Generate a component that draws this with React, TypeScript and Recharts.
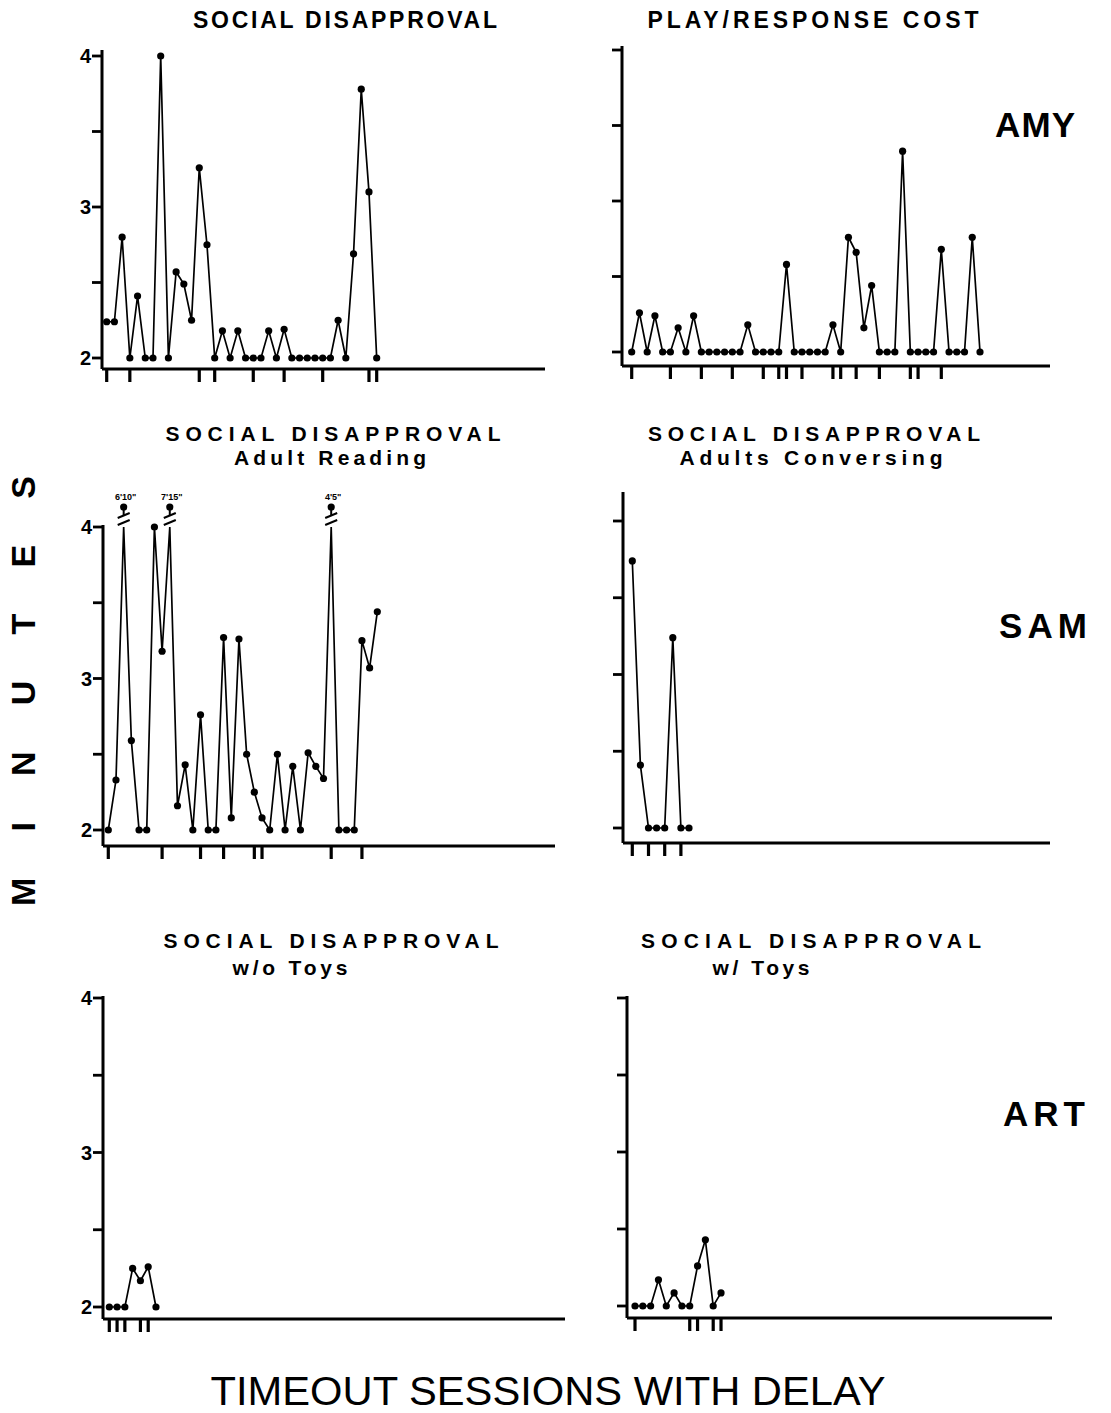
import React from 'react';
import { LineChart, Line, XAxis, YAxis } from 'recharts';

const FONT = "'Liberation Sans', Arial, Helvetica, sans-serif";
const Y_CAP = 4;
const Y_TICKS = [2, 2.5, 3, 3.5, 4];

// ---- AMY ----
const amySocialValues = [2.24, 2.24, 2.8, 2, 2.41, 2, 2, 4.02, 2, 2.57, 2.49, 2.25, 3.26, 2.75, 2, 2.18, 2, 2.18, 2, 2, 2, 2.18, 2, 2.19, 2, 2, 2, 2, 2, 2, 2.25, 2, 2.69, 3.78, 3.1, 2];
const amySocialTicks = [1, 4, 13, 15, 20, 24, 29, 35, 36];

const amyPlayValues = [2, 2.26, 2, 2.24, 2, 2, 2.16, 2, 2.24, 2, 2, 2, 2, 2, 2, 2.18, 2, 2, 2, 2, 2.58, 2, 2, 2, 2, 2, 2.18, 2, 2.76, 2.66, 2.16, 2.44, 2, 2, 2, 3.33, 2, 2, 2, 2, 2.68, 2, 2, 2, 2.76, 2];
const amyPlayTicks = [1, 6, 10, 14, 18, 20, 21, 23, 27, 28, 30, 33, 37, 38, 41];

// ---- SAM ----
const samReadingValues = [2, 2.33, 6.17, 2.59, 2, 2, 4.0, 3.18, 7.25, 2.16, 2.43, 2, 2.76, 2, 2, 3.27, 2.08, 3.26, 2.5, 2.25, 2.08, 2, 2.5, 2, 2.42, 2, 2.51, 2.42, 2.34, 4.08, 2, 2, 2, 3.25, 3.07, 3.44];
const samReadingBreaks: Record<number, string> = { 3: "6'10\"", 9: "7'15\"", 30: "4'5\"" };
const samReadingTicks = [1, 8, 13, 16, 20, 21, 30, 34];

const samConversingValues = [3.74, 2.41, 2, 2, 2, 3.24, 2, 2];
const samConversingTicks = [1, 3, 5, 7];

// ---- ART ----
const artNoToysValues = [2, 2, 2, 2.25, 2.17, 2.26, 2];
const artNoToysTicks = [1, 2, 3, 5, 6];

const artToysValues = [2, 2, 2, 2.17, 2, 2.085, 2, 2, 2.26, 2.43, 2, 2.085];
const artToysTicks = [1, 8, 9, 11, 12];

type Row = { session: number; value: number; plot: number; breakLabel?: string };

function makeData(values: number[], breaks?: Record<number, string>): Row[] {
  return values.map((v, i) => ({
    session: i + 1,
    value: v,
    plot: Math.min(v, Y_CAP),
    breakLabel: breaks ? breaks[i + 1] : undefined,
  }));
}

type Panel = {
  id: string;
  data: Row[];
  ticks: number[];
  axisX: number;
  xEnd: number;
  plotTop: number;
  y4: number;
  y2: number;
  xAxisY: number;
  s1: number;
  d: number;
  labels: boolean;
};

const panels: Panel[] = [
  { id: 'amy-social', data: makeData(amySocialValues), ticks: amySocialTicks, axisX: 102, xEnd: 545, plotTop: 50, y4: 56, y2: 358, xAxisY: 369, s1: 106.7, d: 7.714, labels: true },
  { id: 'amy-play', data: makeData(amyPlayValues), ticks: amyPlayTicks, axisX: 622, xEnd: 1050, plotTop: 46, y4: 50, y2: 352, xAxisY: 366, s1: 631.7, d: 7.74, labels: false },
  { id: 'sam-reading', data: makeData(samReadingValues, samReadingBreaks), ticks: samReadingTicks, axisX: 103, xEnd: 555, plotTop: 525, y4: 527, y2: 830, xAxisY: 846, s1: 108.3, d: 7.686, labels: true },
  { id: 'sam-conv', data: makeData(samConversingValues), ticks: samConversingTicks, axisX: 623, xEnd: 1050, plotTop: 492, y4: 521, y2: 828, xAxisY: 843, s1: 632.3, d: 8.1, labels: false },
  { id: 'art-notoys', data: makeData(artNoToysValues), ticks: artNoToysTicks, axisX: 103, xEnd: 565, plotTop: 996, y4: 998, y2: 1307, xAxisY: 1319, s1: 109.3, d: 7.78, labels: true },
  { id: 'art-toys', data: makeData(artToysValues), ticks: artToysTicks, axisX: 627, xEnd: 1052, plotTop: 996, y4: 998, y2: 1306, xAxisY: 1318, s1: 635, d: 7.82, labels: false },
];

const YAXIS_W = 40;
const MT = 40;
const MR = 10;
const XAXIS_H = 24;

const renderDot = (props: any) => {
  const { cx, cy, payload, index } = props;
  if (cx == null || cy == null || isNaN(cx) || isNaN(cy)) return <g key={`d${index}`} />;
  if (payload && payload.breakLabel) {
    return (
      <g key={`d${index}`}>
        <line x1={cx} y1={cy - 20} x2={cx} y2={cy - 12} stroke="#000" strokeWidth={2} />
        <line x1={cx - 6} y1={cy - 9} x2={cx + 6} y2={cy - 14} stroke="#000" strokeWidth={2} />
        <line x1={cx - 6} y1={cy - 2} x2={cx + 6} y2={cy - 7} stroke="#000" strokeWidth={2} />
        <circle cx={cx} cy={cy - 20} r={3.6} fill="#000" />
        <text x={cx + 2} y={cy - 27} textAnchor="middle" fontSize={9} fontWeight="bold" fontFamily={FONT} fill="#000">
          {payload.breakLabel}
        </text>
      </g>
    );
  }
  return <circle key={`d${index}`} cx={cx} cy={cy} r={3.6} fill="#000" />;
};

function PanelChart({ p }: { p: Panel }) {
  const k = (p.y2 - p.y4) / 2;
  const yDomain: [number, number] = [2 - (p.xAxisY - p.y2) / k, 4 + (p.y4 - p.plotTop) / k];
  const xDomain: [number, number] = [1 - (p.s1 - p.axisX) / p.d, 1 + (p.xEnd - p.s1) / p.d];
  const width = p.xEnd - p.axisX + YAXIS_W + MR;
  const height = MT + (p.xAxisY - p.plotTop) + XAXIS_H;
  return (
    <div style={{ position: 'absolute', left: p.axisX - YAXIS_W, top: p.plotTop - MT }}>
      <LineChart width={width} height={height} data={p.data} margin={{ top: MT, right: MR, bottom: 0, left: 0 }}>
        <XAxis
          dataKey="session"
          type="number"
          domain={xDomain}
          ticks={p.ticks}
          interval={0}
          height={XAXIS_H}
          tickSize={13}
          axisLine={{ stroke: '#000', strokeWidth: 3 }}
          tickLine={{ stroke: '#000', strokeWidth: 3.2 }}
          tick={(t: any) => <g key={`xt${t.index}`} />}
        />
        <YAxis
          type="number"
          domain={yDomain}
          ticks={Y_TICKS}
          interval={0}
          width={YAXIS_W}
          tickSize={10}
          tickMargin={1}
          axisLine={{ stroke: '#000', strokeWidth: 3 }}
          tickLine={{ stroke: '#000', strokeWidth: 2.8 }}
          tick={(t: any) => {
            const v = t.payload?.value;
            if (!p.labels || !Number.isInteger(v)) return <g key={`yt${t.index}`} />;
            return (
              <text key={`yt${t.index}`} x={t.x} y={t.y} dy={7} textAnchor="end" fontSize={20} fontWeight="bold" fontFamily={FONT} fill="#000">
                {v}
              </text>
            );
          }}
        />
        <Line
          type="linear"
          dataKey="plot"
          stroke="#000"
          strokeWidth={1.7}
          dot={renderDot}
          activeDot={false}
          isAnimationActive={false}
        />
      </LineChart>
    </div>
  );
}

type Label = { text: string; x: number; y: number; len: number; size: number; weight?: string; adjust: string };

const TS1 = 23;
const TS = 21;
const titleLabels: Label[] = [
  { text: 'SOCIAL DISAPPROVAL', x: 345, y: 28, len: 304, size: TS1, weight: 'bold', adjust: 'spacing' },
  { text: 'PLAY/RESPONSE COST', x: 813, y: 28, len: 331, size: TS1, weight: 'bold', adjust: 'spacing' },
  { text: 'SOCIAL DISAPPROVAL', x: 333, y: 441, len: 335, size: TS, weight: 'bold', adjust: 'spacing' },
  { text: 'Adult Reading', x: 330, y: 465, len: 192, size: TS, weight: 'bold', adjust: 'spacing' },
  { text: 'SOCIAL DISAPPROVAL', x: 814, y: 441, len: 332, size: TS, weight: 'bold', adjust: 'spacing' },
  { text: 'Adults Conversing', x: 811, y: 465, len: 263, size: TS, weight: 'bold', adjust: 'spacing' },
  { text: 'SOCIAL DISAPPROVAL', x: 331, y: 948, len: 335, size: TS, weight: 'bold', adjust: 'spacing' },
  { text: 'w/o Toys', x: 290, y: 975, len: 115, size: TS, weight: 'bold', adjust: 'spacing' },
  { text: 'SOCIAL DISAPPROVAL', x: 811, y: 948, len: 340, size: TS, weight: 'bold', adjust: 'spacing' },
  { text: 'w/ Toys', x: 761, y: 975, len: 97, size: TS, weight: 'bold', adjust: 'spacing' },
  { text: 'AMY', x: 1035, y: 137, len: 80, size: 35, weight: 'bold', adjust: 'spacing' },
  { text: 'SAM', x: 1043, y: 638, len: 88, size: 35, weight: 'bold', adjust: 'spacing' },
  { text: 'ART', x: 1044, y: 1126, len: 82, size: 35, weight: 'bold', adjust: 'spacing' },
  { text: 'TIMEOUT SESSIONS WITH DELAY', x: 548, y: 1405, len: 675, size: 40, weight: 'normal', adjust: 'spacingAndGlyphs' },
];

export default function App() {
  return (
    <div style={{ position: 'absolute', left: 0, top: 0, width: 1111, height: 1413, background: '#fff', fontFamily: FONT }}>
      {panels.map((p) => (
        <PanelChart key={p.id} p={p} />
      ))}
      <svg width={1111} height={1413} style={{ position: 'absolute', left: 0, top: 0, pointerEvents: 'none' }}>
        {titleLabels.map((l, i) => (
          <text
            key={i}
            x={l.x}
            y={l.y}
            textAnchor="middle"
            fontSize={l.size}
            fontWeight={l.weight}
            fontFamily={FONT}
            textLength={l.len}
            lengthAdjust={l.adjust}
            fill="#000"
          >
            {l.text}
          </text>
        ))}
        <text
          transform="translate(35, 691) rotate(-90)"
          textAnchor="middle"
          fontSize={34}
          fontWeight="bold"
          fontFamily={FONT}
          textLength={430}
          lengthAdjust="spacing"
          fill="#000"
        >
          MINUTES
        </text>
      </svg>
    </div>
  );
}
